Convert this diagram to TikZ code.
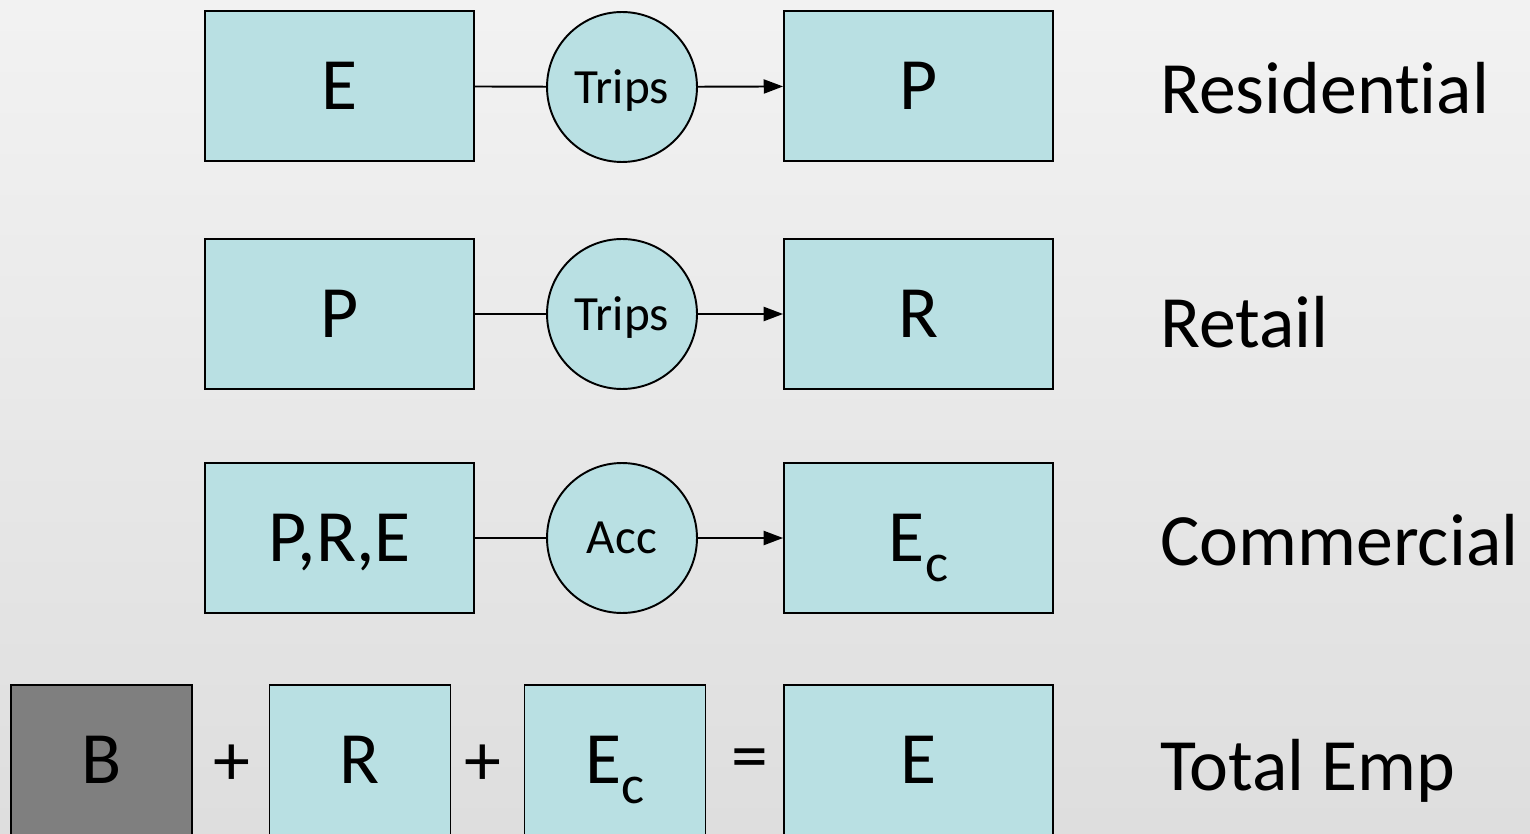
\documentclass[tikz,border=0pt]{standalone}
\usepackage{fontspec}
\setmainfont[Ligatures={NoCommon,NoContextual}]{Carlito}
\usetikzlibrary{arrows.meta}
\definecolor{boxfill}{HTML}{B9E0E3}
\definecolor{basefill}{HTML}{7F7F7F}
\newcommand{\bigtxt}{\fontsize{42}{50}\selectfont}
\newcommand{\smalltxt}{\fontsize{28}{33}\selectfont}
\newcommand{\subc}{\raisebox{-0.27em}{\fontsize{31}{36}\selectfont c}}
\begin{document}
\begin{tikzpicture}[x=0.02cm, y=-0.02cm,
	box/.style={draw, line width=1.1pt, fill=boxfill, minimum width=5.38cm, minimum height=3cm, inner sep=0pt, text depth=0pt, font=\bigtxt},
	sqbox/.style={box, minimum width=3.62cm},
	conv/.style={draw, circle, line width=1.1pt, fill=boxfill, minimum size=3cm, inner sep=0pt, text depth=0pt, font=\smalltxt},
	lbl/.style={anchor=west, inner sep=0pt, text depth=0pt, font=\bigtxt},
	op/.style={inner sep=0pt, font=\bigtxt},
	link/.style={line width=1.1pt},
	arr/.style={line width=1.1pt, -{Triangle[length=11pt, width=8pt]}}]
			\shade[top color=black!5, bottom color=black!13] (0,0) rectangle (1530,834);
			\useasboundingbox (0,0) rectangle (1530,834);
			\node[box] (emp1) at (339.5,86) {E};
			\node[conv] (trips1) at (622,87) {Trips};
			\node[box] (pop1) at (918.5,86) {P};
			\node[lbl] (res) at (1160,88) {Residential};
			\draw[link] (emp1) -- (trips1);
			\draw[arr] (trips1) -- (pop1);
			\node[box] (pop2) at (339.5,314) {P};
			\node[conv] (trips2) at (622,314) {Trips};
			\node[box] (ret2) at (918.5,314) {R};
			\node[lbl] (ret) at (1160,322) {Retail};
			\draw[link] (pop2) -- (trips2);
			\draw[arr] (trips2) -- (ret2);
			\node[box] (all3) at (339.5,538) {P,R,E};
			\node[conv] (acc3) at (622,538) {Acc};
			\node[box] (com3) at (918.5,538) {E\subc};
			\node[lbl] (com) at (1160,540) {Commercial};
			\draw[link] (all3) -- (acc3);
			\draw[arr] (acc3) -- (com3);
			\node[sqbox, fill=basefill] (base4) at (101.5,760) {B};
			\node[op] (plus1) at (232,765) {+};
			\node[sqbox] (ret4) at (360,760) {R};
			\node[op] (plus2) at (483,765) {+};
			\node[sqbox] (com4) at (615,760) {E\subc};
			\node[op] (eq) at (750,765) {=};
			\node[box] (emp4) at (918.5,760) {E};
			\node[lbl] (tot) at (1160,765) {Total Emp};
		\end{tikzpicture}
\end{document}
